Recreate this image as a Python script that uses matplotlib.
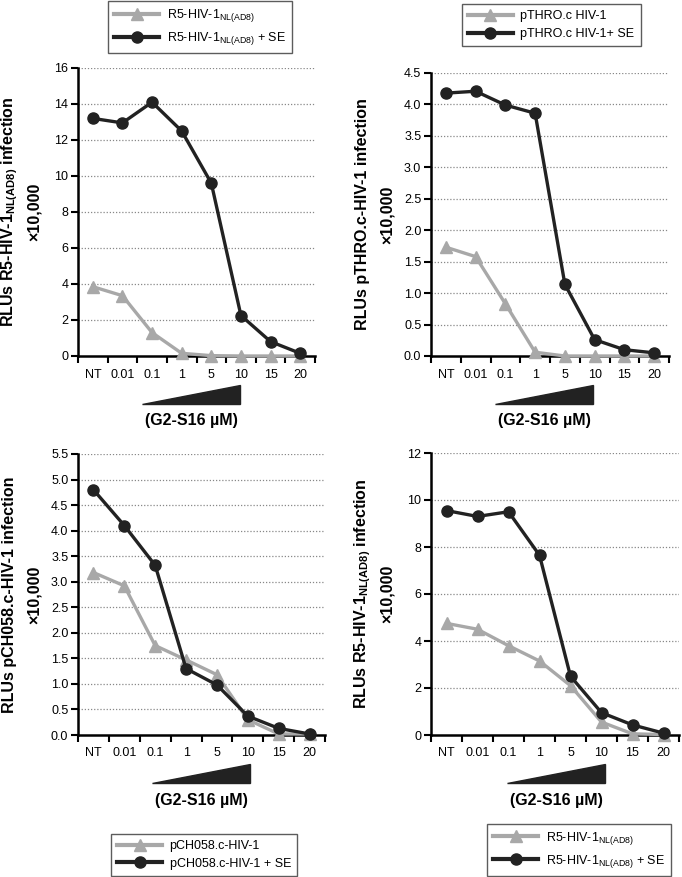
import matplotlib
matplotlib.use("Agg")
import matplotlib.pyplot as plt
from matplotlib.lines import Line2D
from matplotlib.patches import Polygon
import numpy as np

plt.rcParams['font.family'] = ['Liberation Sans', 'DejaVu Sans']
plt.rcParams['mathtext.fontset'] = 'custom'
plt.rcParams['mathtext.rm'] = 'Liberation Sans'
plt.rcParams['mathtext.bf'] = 'Liberation Sans:bold'

categories = ["NT", "0.01", "0.1", "1", "5", "10", "15", "20"]

# Panel A: R5-HIV-1 NL(AD8)
a_virus = [3.85, 3.35, 1.3, 0.15, 0.02, 0.0, 0.0, 0.0]
a_se = [13.2, 12.95, 14.1, 12.5, 9.6, 2.25, 0.8, 0.15]
# Panel B: pTHRO.c
b_virus = [1.73, 1.58, 0.83, 0.06, 0.0, 0.0, 0.0, 0.0]
b_se = [4.18, 4.21, 3.99, 3.86, 1.14, 0.26, 0.1, 0.05]
# Panel C: pCH058.c
c_virus = [3.18, 2.92, 1.75, 1.47, 1.18, 0.3, 0.02, 0.02]
c_se = [4.8, 4.1, 3.32, 1.3, 0.98, 0.37, 0.13, 0.02]
# Panel D: R5-HIV-1 NL(AD8)
d_virus = [4.75, 4.5, 3.8, 3.15, 2.1, 0.55, 0.05, 0.02]
d_se = [9.55, 9.3, 9.5, 7.65, 2.5, 0.95, 0.43, 0.08]

sub = r"$_{\mathregular{NL(AD8)}}$"
ylabels = [
    "RLUs R5-HIV-1" + sub + " infection",
    "RLUs pTHRO.c-HIV-1 infection",
    "RLUs pCH058.c-HIV-1 infection",
    "RLUs R5-HIV-1" + sub + " infection",
]
legend_labels = [
    ("R5-HIV-1" + sub, "R5-HIV-1" + sub + " + SE"),
    ("pTHRO.c HIV-1", "pTHRO.c HIV-1+ SE"),
    ("pCH058.c-HIV-1", "pCH058.c-HIV-1 + SE"),
    ("R5-HIV-1" + sub, "R5-HIV-1" + sub + " + SE"),
]
yticks = [
    (np.arange(0, 17, 2), "{:.0f}", 16),
    (np.arange(0, 4.51, 0.5), "{:.1f}", 4.5),
    (np.arange(0, 5.51, 0.5), "{:.1f}", 5.5),
    (np.arange(0, 13, 2), "{:.0f}", 12),
]
series = [(a_virus, a_se), (b_virus, b_se), (c_virus, c_se), (d_virus, d_se)]

W, H = 682, 877
fig = plt.figure(figsize=(W / 100, H / 100), dpi=100)

# axes rectangles in pixels: left, right, top, bottom
rects = [(78, 315, 68, 356), (431, 669, 73, 356), (78, 325, 454, 735), (431, 679, 453, 735)]
wedge_off = [64, 64, 74, 76]
GRAY = "#a8a8a8"
BLACK = "#222222"

x = np.arange(len(categories))
axes = []
for i, (l, r, t, b) in enumerate(rects):
    ax = fig.add_axes([l / W, 1 - b / H, (r - l) / W, (b - t) / H])
    axes.append(ax)
    v, s = series[i]
    ax.plot(x, v, color=GRAY, lw=2.4, marker='^', ms=9, mec=GRAY, mfc=GRAY, zorder=3, clip_on=False)
    ax.plot(x, s, color=BLACK, lw=2.4, marker='o', ms=8, mec=BLACK, mfc=BLACK, zorder=4, clip_on=False)
    ticks, fmt, top = yticks[i]
    ax.set_ylim(0, top)
    ax.set_yticks(ticks)
    ax.set_yticklabels([fmt.format(tv) for tv in ticks], fontsize=9)
    for tv in ticks[1:]:
        ax.axhline(tv, color="#888888", lw=0.9, ls=(0, (1, 1.5)), zorder=1)
    ax.set_xlim(-0.5, len(categories) - 0.5)
    ax.set_xticks(x)
    ax.set_xticklabels(categories, fontsize=9)
    ax.set_xticks(np.arange(-0.5, len(categories), 1), minor=True)
    ax.tick_params(axis='x', which='major', length=0, pad=9)
    ax.tick_params(axis='x', which='minor', length=5, width=1.5, direction='out')
    ax.tick_params(axis='y', length=5, width=1.5, direction='out', pad=2)
    for sp in ['top', 'right']:
        ax.spines[sp].set_visible(False)
    for sp in ['left', 'bottom']:
        ax.spines[sp].set_linewidth(1.8)
    # y-label (two lines)
    yc = 1 - (t + b) / 2 / H
    fig.text((l - 68) / W, yc, ylabels[i], rotation=90, ha='center', va='center',
             fontsize=11.5, fontweight='bold')
    fig.text((l - 44) / W, yc, "×10,000", rotation=90, ha='center', va='center',
             fontsize=11.5, fontweight='bold')
    # concentration wedge
    tx0 = l + wedge_off[i]
    tx1 = tx0 + 98
    ty_bot = b + 48
    ty_top = b + 29
    poly = Polygon([[tx0 / W, 1 - ty_bot / H], [tx1 / W, 1 - ty_bot / H], [tx1 / W, 1 - ty_top / H]],
                   closed=True, transform=fig.transFigure, facecolor=BLACK, edgecolor=BLACK)
    fig.patches.append(poly)
    fig.text(((tx0 + tx1) / 2) / W, 1 - (b + 65) / H, "(G2-S16 µM)", ha='center', va='center',
             fontsize=11.5, fontweight='bold')

legend_pos = [((200 / W, 1.0), 'upper center'), ((551 / W, 1 - 3 / H), 'upper center'),
              ((204 / W, 0.0), 'lower center'), ((579 / W, 0.0), 'lower center')]
for i, (anchor, loc) in enumerate(legend_pos):
    h1 = Line2D([], [], color=GRAY, lw=3, marker='^', ms=8)
    h2 = Line2D([], [], color=BLACK, lw=3, marker='o', ms=8)
    leg = fig.legend([h1, h2], list(legend_labels[i]), loc=loc, bbox_to_anchor=anchor,
                     fontsize=9, frameon=True, fancybox=False, edgecolor='#333333',
                     handlelength=3.6, borderpad=0.5, labelspacing=0.45, handletextpad=0.6,
                     borderaxespad=0.1)
    leg.get_frame().set_linewidth(1.0)

fig.savefig("out.png", dpi=100)
